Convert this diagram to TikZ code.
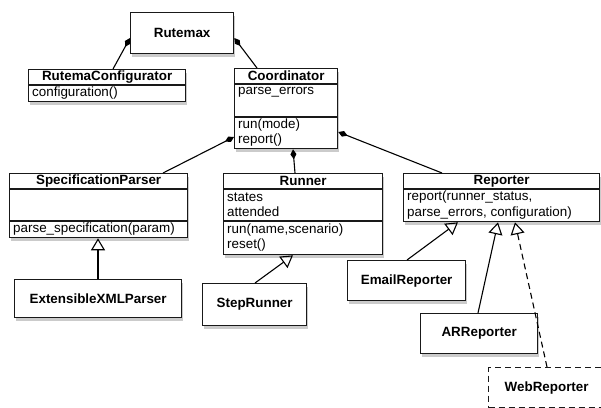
\documentclass[tikz,border=0pt]{standalone}
\usepackage{fontspec}
\setmainfont{Liberation Sans}
\usetikzlibrary{arrows.meta,shadows}
\begin{document}
\begin{tikzpicture}[x=1pt,y=-1pt,
  font=\fontsize{13.4}{15}\selectfont,
  cls/.style={draw=black!90, line width=1.3pt, fill=white, inner sep=0pt, anchor=north west,
    drop shadow={shadow xshift=1.5pt, shadow yshift=-3pt, fill=black!40, opacity=0.5}},
  dcls/.style={draw=black!90, line width=1.3pt, dash pattern=on 6pt off 4pt, fill=white, inner sep=0pt, anchor=north west},
  ttl/.style={font=\fontsize{13.4}{15}\selectfont\bfseries, inner sep=0pt},
  mem/.style={inner sep=0pt, anchor=west},
  sep/.style={line width=1.1pt, black!90},
  agg/.style={{Diamond[width=6pt,length=10pt]}-, line width=1.1pt},
  gen/.style={-{Triangle[open,width=14pt,length=12pt,line width=1.1pt]}, line width=1.1pt},
  dgen/.style={gen, dash pattern=on 6pt off 4pt}]
\clip (0,0) rectangle (601,407);
\fill[white] (0,0) rectangle (601,407);

% Rutemax
\node[cls, minimum width=103pt, minimum height=41pt, font=\fontsize{13.4}{15}\selectfont\bfseries] (rutemax) at (130,12) {Rutemax};

% RutemaConfigurator
\node[cls, minimum width=157pt, minimum height=32pt] (rconf) at (28,69) {};
\draw[sep] (rconf.west |- 0,85) -- (rconf.east |- 0,85);
\node[ttl] (rconfT) at (rconf.north |- 0,77) {RutemaConfigurator};
\node[mem] (rconfM) at (32,93) {configuration()};

% Coordinator
\node[cls, minimum width=103pt, minimum height=80pt] (coord) at (234,68) {};
\draw[sep] (coord.west |- 0,84) -- (coord.east |- 0,84);
\draw[sep] (coord.west |- 0,117) -- (coord.east |- 0,117);
\node[ttl] (coordT) at (coord.north |- 0,76) {Coordinator};
\node[mem] (coordA) at (238,92) {parse\_errors};
\node[mem] (coordM1) at (238,125) {run(mode)};
\node[mem] (coordM2) at (238,140) {report()};

% SpecificationParser
\node[cls, minimum width=178pt, minimum height=64pt] (spec) at (9,173) {};
\draw[sep] (spec.west |- 0,189) -- (spec.east |- 0,189);
\draw[sep] (spec.west |- 0,221) -- (spec.east |- 0,221);
\node[ttl] (specT) at (spec.north |- 0,181) {SpecificationParser};
\node[mem] (specM) at (13,229) {parse\_specification(param)};

% ExtensibleXMLParser
\node[cls, minimum width=167pt, minimum height=38pt, font=\fontsize{13.4}{15}\selectfont\bfseries] (xml) at (14,279) {ExtensibleXMLParser};

% Runner
\node[cls, minimum width=159pt, minimum height=81pt] (runner) at (223,173) {};
\draw[sep] (runner.west |- 0,189) -- (runner.east |- 0,189);
\draw[sep] (runner.west |- 0,221) -- (runner.east |- 0,221);
\node[ttl] (runnerT) at (runner.north |- 0,181) {Runner};
\node[mem] (runnerA1) at (227,197) {states};
\node[mem] (runnerA2) at (227,212) {attended};
\node[mem] (runnerM1) at (227,230) {run(name,scenario)};
\node[mem] (runnerM2) at (227,245) {reset()};

% StepRunner
\node[cls, minimum width=104pt, minimum height=42pt, font=\fontsize{13.4}{15}\selectfont\bfseries] (step) at (202,283) {StepRunner};

% Reporter
\node[cls, minimum width=196pt, minimum height=48pt] (rep) at (403,173) {};
\draw[sep] (rep.west |- 0,189) -- (rep.east |- 0,189);
\node[ttl] (repT) at (rep.north |- 0,181) {Reporter};
\node[mem] (repM1) at (407,197) {report(runner\_status,};
\node[mem] (repM2) at (407,213) {parse\_errors, configuration)};

% EmailReporter
\node[cls, minimum width=118pt, minimum height=40pt, font=\fontsize{13.4}{15}\selectfont\bfseries] (email) at (347,260) {EmailReporter};

% ARReporter
\node[cls, minimum width=117pt, minimum height=40pt, font=\fontsize{13.4}{15}\selectfont\bfseries] (ar) at (420,313) {ARReporter};

% WebReporter
\node[dcls, minimum width=116pt, minimum height=40pt, font=\fontsize{13.4}{15}\selectfont\bfseries] (web) at (488,367) {WebReporter};

% aggregations
\draw[agg] (rutemax.west |- 0,38) -- (rconf.north -| 113,0);
\draw[agg] (rutemax.east |- 0,38) -- (coord.north -| 257,0);
\draw[agg] (coord.west |- 0,137) -- (spec.north -| 163,0);
\draw[agg] (coord.south -| 293,0) -- (runner.north -| 295,0);
\draw[agg] (coord.east |- 0,132) -- (rep.north -| 442,0);

% generalizations
\draw[gen] (xml.north -| 98,0) -- (spec.south -| 98,0);
\draw[gen] (step.north -| 255,0) -- (runner.south -| 293,0);
\draw[gen] (email.north -| 407,0) -- (rep.south -| 458,0);
\draw[gen] (ar.north -| 478,0) -- (rep.south -| 498,0);
\draw[dgen] (web.north -| 547,0) -- (rep.south -| 515,0);
\end{tikzpicture}
\end{document}
